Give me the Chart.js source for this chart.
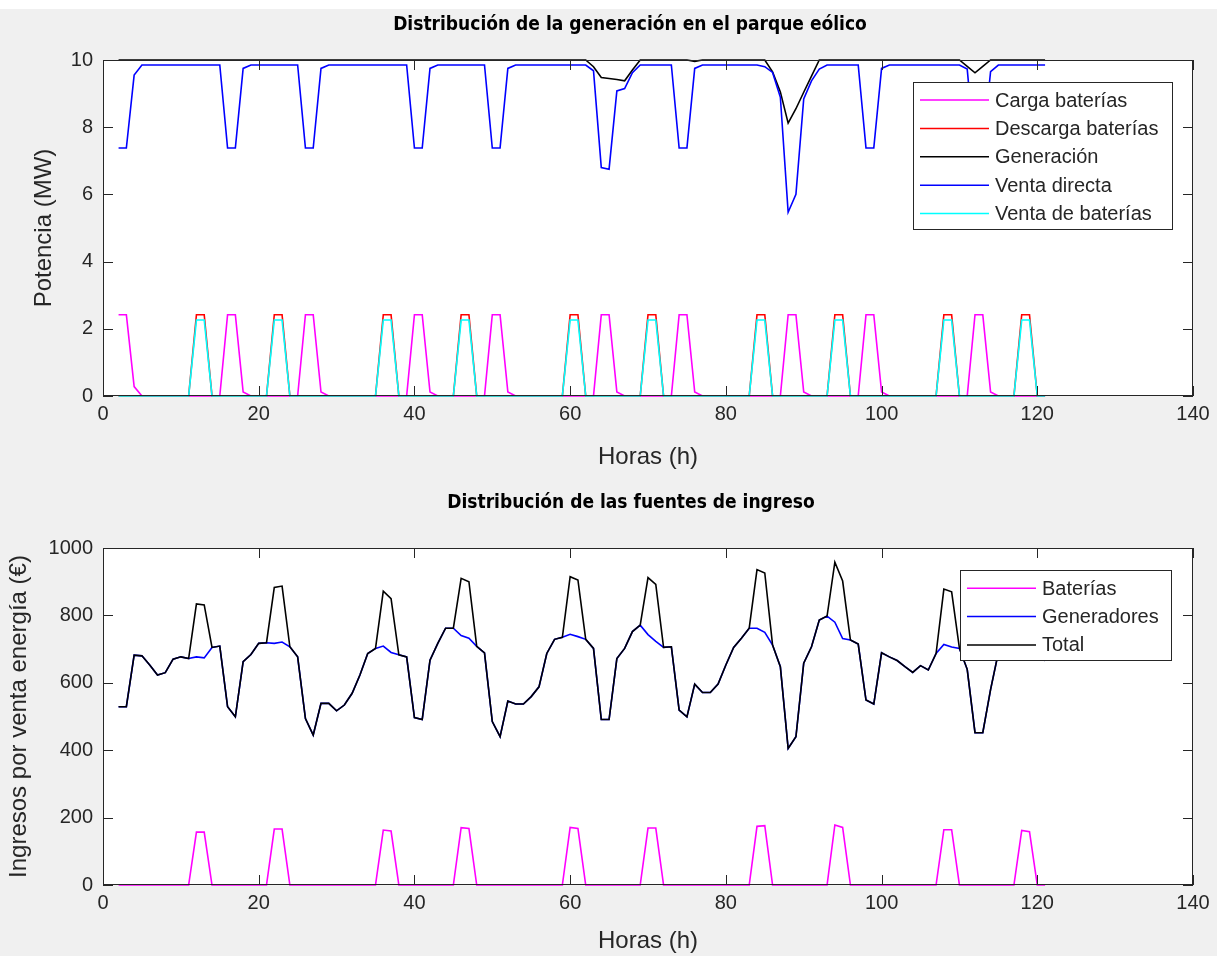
<!DOCTYPE html>
<html>
<head>
<meta charset="utf-8">
<script src="https://cdn.jsdelivr.net/npm/chart.js@4/dist/chart.umd.min.js"></script>
<style>
  html, body { margin: 0; padding: 0; background: #f0f0f0; }
  #fig { position: relative; width: 1217px; height: 956px; background: #f0f0f0; overflow: hidden; }
  #topStrip { position: absolute; left: 0; top: 0; width: 1217px; height: 9px; background: #ffffff; }
  canvas { position: absolute; left: 0; }
  #gen { top: 0; }
  #ing { top: 478px; }
</style>
</head>
<body>
<div id="fig">
  <div id="topStrip"></div>
  <canvas id="gen" width="1217" height="478" style="width:1217px;height:478px"></canvas>
  <canvas id="ing" width="1217" height="478" style="width:1217px;height:478px"></canvas>
</div>
<script>
// Hours of the simulation
const horas = [
  2,3,4,5,6,7,8,9,10,11,12,13,14,15,16,17,18,19,20,21,
  22,23,24,25,26,27,28,29,30,31,32,33,34,35,36,37,38,39,40,41,
  42,43,44,45,46,47,48,49,50,51,52,53,54,55,56,57,58,59,60,61,
  62,63,64,65,66,67,68,69,70,71,72,73,74,75,76,77,78,79,80,81,
  82,83,84,85,86,87,88,89,90,91,92,93,94,95,96,97,98,99,100,101,
  102,103,104,105,106,107,108,109,110,111,112,113,114,115,116,117,118,119,120,121
];

// Power flows in the wind farm (MW)
const cargaBaterias = [
  2.42,2.42,0.28,0,0,0,0,0,0,0,0,0,0,0,2.42,2.42,0.12,0,0,0,
  0,0,0,0,2.42,2.42,0.12,0,0,0,0,0,0,0,0,0,0,0,2.42,2.42,
  0.12,0,0,0,0,0,0,0,2.42,2.42,0.12,0,0,0,0,0,0,0,0,0,
  0,0,2.42,2.42,0.12,0,0,0,0,0,0,0,2.42,2.42,0.12,0,0,0,0,0,
  0,0,0,0,0,0,2.42,2.42,0.12,0,0,0,0,0,0,0,2.42,2.42,0.12,0,
  0,0,0,0,0,0,0,0,0,0,2.42,2.42,0.12,0,0,0,0,0,0,0
];
const descargaBaterias = [
  0,0,0,0,0,0,0,0,0,0,2.42,2.42,0,0,0,0,0,0,0,0,
  2.42,2.42,0,0,0,0,0,0,0,0,0,0,0,0,2.42,2.42,0,0,0,0,
  0,0,0,0,2.42,2.42,0,0,0,0,0,0,0,0,0,0,0,0,2.42,2.42,
  0,0,0,0,0,0,0,0,2.42,2.42,0,0,0,0,0,0,0,0,0,0,
  0,0,2.42,2.42,0,0,0,0,0,0,0,0,2.42,2.42,0,0,0,0,0,0,
  0,0,0,0,0,0,2.42,2.42,0,0,0,0,0,0,0,0,2.42,2.42,0,0
];
const generacion = [
  10,10,10,10,10,10,10,10,10,10,10,10,10,10,10,10,10,10,10,10,
  10,10,10,10,10,10,10,10,10,10,10,10,10,10,10,10,10,10,10,10,
  10,10,10,10,10,10,10,10,10,10,10,10,10,10,10,10,10,10,10,10,
  10,9.8,9.48,9.45,9.42,9.38,9.7,10,10,10,10,10,10,10,9.96,10,10,10,10,10,
  10,10,10,10,9.65,9.05,8.12,8.55,9.04,9.52,10,10,10,10,10,10,10,10,10,10,
  10,10,10,10,10,10,10,10,10,9.81,9.62,9.81,10,10,10,10,10,10,10,10
];
const ventaDirecta = [
  7.38,7.38,9.55,9.85,9.85,9.85,9.85,9.85,9.85,9.85,9.85,9.85,9.85,9.85,7.38,7.38,9.75,9.85,9.85,9.85,
  9.85,9.85,9.85,9.85,7.38,7.38,9.75,9.85,9.85,9.85,9.85,9.85,9.85,9.85,9.85,9.85,9.85,9.85,7.38,7.38,
  9.75,9.85,9.85,9.85,9.85,9.85,9.85,9.85,7.38,7.38,9.75,9.85,9.85,9.85,9.85,9.85,9.85,9.85,9.85,9.85,
  9.85,9.68,6.8,6.75,9.08,9.15,9.62,9.85,9.85,9.85,9.85,9.85,7.38,7.38,9.75,9.85,9.85,9.85,9.85,9.85,
  9.85,9.85,9.85,9.8,9.63,8.89,5.47,6.0,8.84,9.38,9.73,9.85,9.85,9.85,9.85,9.85,7.38,7.38,9.75,9.85,
  9.85,9.85,9.85,9.85,9.85,9.85,9.85,9.85,9.85,9.73,7.2,7.38,9.65,9.85,9.85,9.85,9.85,9.85,9.85,9.85
];
const ventaBaterias = [
  0,0,0,0,0,0,0,0,0,0,2.26,2.26,0,0,0,0,0,0,0,0,
  2.26,2.26,0,0,0,0,0,0,0,0,0,0,0,0,2.26,2.26,0,0,0,0,
  0,0,0,0,2.26,2.26,0,0,0,0,0,0,0,0,0,0,0,0,2.26,2.26,
  0,0,0,0,0,0,0,0,2.26,2.26,0,0,0,0,0,0,0,0,0,0,
  0,0,2.26,2.26,0,0,0,0,0,0,0,0,2.26,2.26,0,0,0,0,0,0,
  0,0,0,0,0,0,2.26,2.26,0,0,0,0,0,0,0,0,2.26,2.26,0,0
];

// Income by source (EUR)
const ingresoBaterias = [
  0,0,0,0,0,0,0,0,0,0,157,157,0,0,0,0,0,0,0,0,
  166,166,0,0,0,0,0,0,0,0,0,0,0,0,163,160,0,0,0,0,
  0,0,0,0,170,168,0,0,0,0,0,0,0,0,0,0,0,0,171,168,
  0,0,0,0,0,0,0,0,169,169,0,0,0,0,0,0,0,0,0,0,
  0,0,174,176,0,0,0,0,0,0,0,0,178,171,0,0,0,0,0,0,
  0,0,0,0,0,0,164,164,0,0,0,0,0,0,0,0,162,158,0,0
];
const ingresoGeneradores = [
  529,529,682,680,653,623,630,670,677,672,677,674,705,709,529,499,663,684,717,719,
  717,721,707,677,494,445,539,539,517,534,569,623,687,702,709,690,683,677,497,491,
  667,717,762,762,740,732,708,689,485,440,546,537,537,559,588,687,729,735,744,737,
  729,702,491,491,672,702,752,771,743,723,705,707,519,499,596,571,571,596,653,705,
  732,762,762,750,712,648,405,440,658,707,786,798,780,731,727,715,549,537,689,677,
  666,648,631,651,638,687,714,706,702,640,452,452,580,690,720,720,708,702,700,665
];
const ingresoTotal = [
  529,529,682,680,653,623,630,670,677,672,834,831,705,709,529,499,663,684,717,719,
  883,887,707,677,494,445,539,539,517,534,569,623,687,702,872,850,683,677,497,491,
  667,717,762,762,910,900,708,689,485,440,546,537,537,559,588,687,729,735,915,905,
  729,702,491,491,672,702,752,771,912,892,705,707,519,499,596,571,571,596,653,705,
  732,762,936,926,712,648,405,440,658,707,786,798,958,902,727,715,549,537,689,677,
  666,648,631,651,638,687,878,870,702,640,452,452,580,690,720,720,870,860,700,665
];

// Tick labels
const ticksHoras = [0, 20, 40, 60, 80, 100, 120, 140];
const ticksPotencia = [0, 2, 4, 6, 8, 10];
const ticksIngresos = [0, 200, 400, 600, 800, 1000];

const FONT = '"Liberation Sans", Arial, sans-serif';
const INK = '#262626';

const toPoints = arr => arr.map((v, i) => ({ x: horas[i], y: v }));

// White axes background, box with inward ticks, legend and title
const matlabAxes = {
  id: 'matlabAxes',
  beforeDatasetsDraw(chart) {
    const { ctx, chartArea: a } = chart;
    ctx.save();
    ctx.fillStyle = '#ffffff';
    ctx.fillRect(a.left, a.top, a.right - a.left, a.bottom - a.top);
    ctx.restore();
  },
  afterDatasetsDraw(chart, args, opts) {
    const { ctx, chartArea: a, scales: { x, y } } = chart;
    ctx.save();
    ctx.strokeStyle = INK;
    ctx.lineWidth = 1;
    ctx.beginPath();
    x.ticks.forEach(t => {
      const px = Math.round(x.getPixelForValue(t.value)) + 0.5;
      ctx.moveTo(px, a.bottom); ctx.lineTo(px, a.bottom - 10);
      ctx.moveTo(px, a.top); ctx.lineTo(px, a.top + 10);
    });
    y.ticks.forEach(t => {
      const py = Math.round(y.getPixelForValue(t.value)) + 0.5;
      ctx.moveTo(a.left, py); ctx.lineTo(a.left + 10, py);
      ctx.moveTo(a.right, py); ctx.lineTo(a.right - 10, py);
    });
    ctx.stroke();
    ctx.strokeRect(a.left + 0.5, a.top + 0.5, a.right - a.left - 1, a.bottom - a.top - 1);

    // legend box
    const L = opts.legend;
    ctx.fillStyle = '#ffffff';
    ctx.fillRect(L.x, L.y, L.w, L.h);
    ctx.strokeRect(L.x + 0.5, L.y + 0.5, L.w, L.h);
    ctx.font = '20px ' + FONT;
    ctx.textBaseline = 'middle';
    ctx.textAlign = 'left';
    chart.data.datasets.forEach((ds, i) => {
      const ry = L.row0 + i * L.rowStep;
      ctx.strokeStyle = ds.borderColor;
      ctx.lineWidth = 1.5;
      ctx.beginPath();
      ctx.moveTo(L.lineX0, ry); ctx.lineTo(L.lineX1, ry);
      ctx.stroke();
      ctx.fillStyle = INK;
      ctx.fillText(ds.label, L.textX, ry + 1);
    });

    // axes title
    const T = opts.title;
    ctx.fillStyle = '#000000';
    ctx.font = 'bold 19px "Liberation Sans Narrow", "DejaVu Sans Condensed", sans-serif';
    ctx.textAlign = 'center';
    ctx.textBaseline = 'middle';
    ctx.fillText(T.text, T.x, T.y);
    ctx.restore();
  }
};

function lineDataset(label, color, values, order) {
  return {
    label, order,
    data: toPoints(values),
    borderColor: color,
    backgroundColor: color,
    borderWidth: 1.6,
    pointRadius: 0,
    tension: 0,
    fill: false,
    clip: false
  };
}

function axesOptions(cfg) {
  return {
    responsive: false,
    animation: false,
    devicePixelRatio: 1,
    events: [],
    layout: { padding: { left: 0, right: 24, top: cfg.top, bottom: 0 } },
    plugins: {
      legend: { display: false },
      title: { display: false },
      tooltip: { enabled: false },
      matlabAxes: { legend: cfg.legend, title: cfg.title }
    },
    scales: {
      x: {
        type: 'linear', min: 0, max: 140,
        afterBuildTicks: s => { s.ticks = ticksHoras.map(v => ({ value: v })); },
        grid: { display: false, drawTicks: false },
        border: { display: false },
        ticks: { font: { family: FONT, size: 20 }, color: INK, padding: 6, maxRotation: 0,
                 callback: v => String(v) },
        title: { display: true, text: 'Horas (h)', color: INK,
                 font: { family: FONT, size: 24 }, padding: { top: 0, bottom: cfg.xTitlePad } },
        afterFit: s => { s.height = cfg.xHeight; }
      },
      y: {
        type: 'linear', min: cfg.yTicks[0], max: cfg.yTicks[cfg.yTicks.length - 1],
        afterBuildTicks: s => { s.ticks = cfg.yTicks.map(v => ({ value: v })); },
        grid: { display: false, drawTicks: false },
        border: { display: false },
        ticks: { font: { family: FONT, size: 20 }, color: INK, padding: 10,
                 callback: v => String(v) },
        title: { display: true, text: cfg.yTitle, color: INK,
                 font: { family: FONT, size: 24 }, padding: { top: cfg.yTitlePad, bottom: 0 } },
        afterFit: s => { s.width = 103; }
      }
    }
  };
}

new Chart(document.getElementById('gen'), {
  type: 'line',
  data: {
    datasets: [
      lineDataset('Carga baterías', '#ff00ff', cargaBaterias, 5),
      lineDataset('Descarga baterías', '#ff0000', descargaBaterias, 4),
      lineDataset('Generación', '#000000', generacion, 3),
      lineDataset('Venta directa', '#0000ff', ventaDirecta, 2),
      lineDataset('Venta de baterías', '#00ffff', ventaBaterias, 1)
    ]
  },
  options: axesOptions({
    top: 60, xHeight: 82, xTitlePad: 6, yTitlePad: 30,
    yTicks: ticksPotencia, yTitle: 'Potencia (MW)',
    legend: { x: 913, y: 82, w: 259, h: 147, lineX0: 920, lineX1: 989, textX: 995, row0: 100, rowStep: 28.4 },
    title: { text: 'Distribución de la generación en el parque eólico', x: 630, y: 25 }
  }),
  plugins: [matlabAxes]
});

new Chart(document.getElementById('ing'), {
  type: 'line',
  data: {
    datasets: [
      lineDataset('Baterías', '#ff00ff', ingresoBaterias, 3),
      lineDataset('Generadores', '#0000ff', ingresoGeneradores, 2),
      lineDataset('Total', '#000000', ingresoTotal, 1)
    ]
  },
  options: axesOptions({
    top: 70, xHeight: 71, xTitlePad: 0, yTitlePad: 5,
    yTicks: ticksIngresos, yTitle: 'Ingresos por venta energía (€)',
    legend: { x: 960, y: 92, w: 211, h: 90, lineX0: 967, lineX1: 1036, textX: 1042, row0: 110.3, rowStep: 28.3 },
    title: { text: 'Distribución de las fuentes de ingreso', x: 631, y: 25 }
  }),
  plugins: [matlabAxes]
});
</script>
</body>
</html>
